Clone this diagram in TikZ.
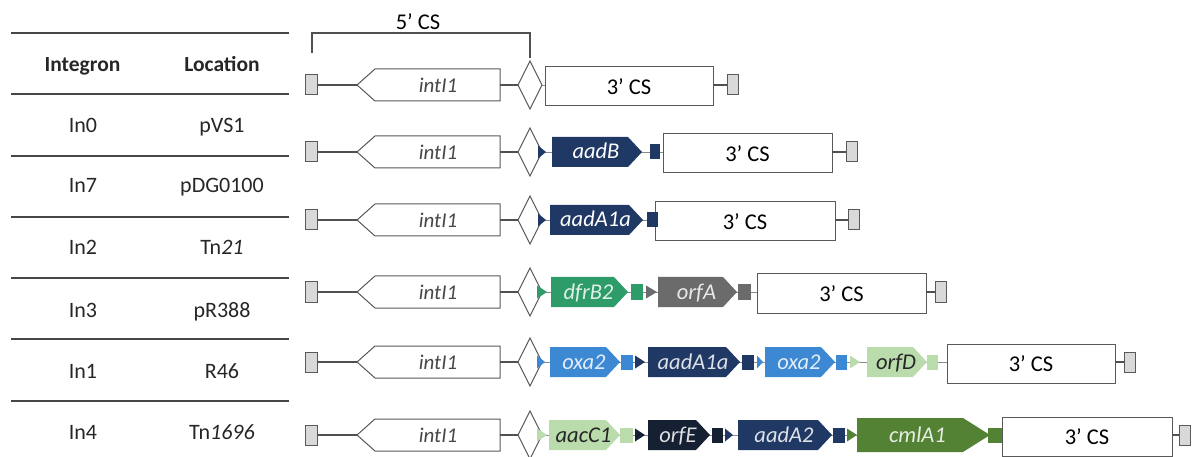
\documentclass[tikz,border=0pt]{standalone}
\usepackage{fontspec}
\setmainfont{Carlito}
\usetikzlibrary{shapes.geometric}

\definecolor{ink}{HTML}{262626}
\definecolor{edge}{HTML}{595959}
\definecolor{capfill}{HTML}{D9D9D9}
\definecolor{navy}{HTML}{1F3864}
\definecolor{darknavy}{HTML}{162033}
\definecolor{midblue}{HTML}{3C88D2}
\definecolor{seagreen}{HTML}{2E9C68}
\definecolor{midgrey}{HTML}{6B6B6B}
\definecolor{palegreen}{HTML}{BADCAC}
\definecolor{olive}{HTML}{548235}

\tikzset{
  rule/.style={draw=ink!85, line width=1.6pt},
  headtext/.style={font=\fontsize{21.5}{24}\selectfont\bfseries, text=ink, anchor=base},
  celltext/.style={font=\fontsize{22}{24}\selectfont, text=ink, anchor=base},
  endcap/.style={draw=edge, fill=capfill, line width=1pt, minimum width=12pt, minimum height=20pt, inner sep=0pt, outer sep=0pt},
  intbody/.style={draw=edge, fill=white, line width=1pt},
  inttext/.style={font=\fontsize{21}{24}\selectfont\itshape, text=ink!85, anchor=base},
  attI/.style={diamond, draw=edge, fill=white, line width=1pt, minimum width=24pt, minimum height=48pt, inner sep=0pt, outer sep=0pt},
  csbox/.style={draw=edge, fill=white, line width=1pt, minimum height=39pt, inner sep=0pt, outer sep=0pt},
  cstext/.style={font=\fontsize{22.5}{24}\selectfont, text=black, anchor=base},
  link/.style={draw=edge!90!black, line width=1.1pt},
  backbone/.style={draw=edge!70, line width=0.5pt},
  genetext/.style={font=\fontsize{22.5}{24}\selectfont\itshape, anchor=base},
}

% right-pointing attC marker
\newcommand\attc[3]{\fill[#3] (#1,\Y-6.5) -- (#2,\Y) -- (#1,\Y+6.5) -- cycle;}
% square closing a cassette
\newcommand\cassq[3]{\fill[#3] (#1,\Y-7.5) rectangle (#2,\Y+7.5);}
% gene arrow: name, x1, x2, fill, text colour, label
\newcommand\gene[6]{%
  \fill[#4] (#2,\Y-15) -- (#3-14,\Y-15) -- (#3,\Y) -- (#3-14,\Y+15) -- (#2,\Y+15) -- cycle;
  \node[genetext, text=#5] (#1) at ({(#2+#3)/2-1},\Y+7) {#6};}
% long gene arrow (cmlA1)
\newcommand\biggene[6]{%
  \fill[#4] (#2,\Y-17) -- (#3-27,\Y-17) -- (#3,\Y) -- (#3-27,\Y+17) -- (#2,\Y+17) -- cycle;
  \node[genetext, text=#5] (#1) at ({(#2+#3)/2-6},\Y+7) {#6};}
% common frame of an integron: id, y, 3'CS left, 3'CS right, right cap centre
\newcommand\integron[5]{%
  \def\Y{#2}
  \node[endcap] (L#1) at (311,#2) {};
  \draw[intbody] (357,#2) -- (375,#2-16) -- (500,#2-16) -- (500,#2+16) -- (375,#2+16) -- cycle;
  \coordinate (T#1) at (357,#2);
  \coordinate (E#1) at (500,#2);
  \node[inttext] (I#1) at (438,#2+7.5) {intI1};
  \node[attI] (D#1) at (530,#2) {};
  \node[csbox, minimum width={#4-#3}] (B#1) at ({(#3+#4)/2},#2+1.5) {};
  \node[cstext] (C#1) at ({(#3+#4)/2},#2+9.5) {3’ CS};
  \node[endcap, minimum width=11pt] (R#1) at (#5,#2) {};
  \draw[link] (L#1.east) -- (T#1);
  \draw[link] (E#1) -- (D#1.west);
  \draw[link] (B#1.east |- R#1.west) -- (R#1.west);
  \draw[backbone] (D#1.east) -- (B#1.west |- D#1.east);
}

\begin{document}
\begin{tikzpicture}[x=1pt, y=-1pt]
\useasboundingbox (0,0) rectangle (1192,457);

% ---- table ----
\foreach \ry in {33,94,156,217,278,339,401}
  \draw[rule] (11,\ry) -- (289,\ry);
\node[headtext] (hInt) at (82.5,72) {Integron};
\node[headtext] (hLoc) at (222,72) {Location};
\node[celltext] (n0) at (83,133) {In0};
\node[celltext] (p0) at (222,133) {pVS1};
\node[celltext] (n7) at (83,193) {In7};
\node[celltext] (p7) at (222,193) {pDG0100};
\node[celltext] (n2) at (83,255) {In2};
\node[celltext] (p2) at (222,255) {Tn\textit{21}};
\node[celltext] (n3) at (83,317) {In3};
\node[celltext] (p3) at (222,317) {pR388};
\node[celltext] (n1) at (83,378) {In1};
\node[celltext] (p1) at (222,378) {R46};
\node[celltext] (n4) at (83,439) {In4};
\node[celltext] (p4) at (222,439) {Tn\textit{1696}};

% ---- In0 ----
\integron{1}{85}{545}{713}{732.5}
\coordinate (csL) at (312,53);
\coordinate (csTop) at (0,33);
\draw[link] (csL) |- (D1.north |- csTop) -- ([yshift=3pt]D1.north);
\node[cstext] (cs5) at (418,30) {5’ CS};

% ---- In7 ----
\integron{2}{152}{663}{832}{851.5}
\attc{538}{546}{navy}
\gene{g21}{552}{642}{navy}{white}{aadB}
\cassq{650}{660}{navy}

% ---- In2 ----
\integron{3}{220}{655}{835}{854}
\attc{538}{546}{navy}
\gene{g31}{550}{643}{navy}{white}{aadA1a}
\cassq{647}{658}{navy}

% ---- In3 ----
\integron{4}{292}{757}{926}{941}
\attc{537}{547}{seagreen}
\gene{g41}{551}{628}{seagreen}{white!85!seagreen}{dfrB2}
\cassq{631}{643}{seagreen}
\attc{646}{657}{midgrey}
\gene{g42}{658}{737}{midgrey}{white!85!midgrey}{orfA}
\cassq{738}{751}{midgrey}

% ---- In1 ----
\integron{5}{362}{947}{1115}{1130}
\attc{537}{545}{midblue}
\gene{g51}{550}{620}{midblue}{white!85!midblue}{oxa2}
\cassq{621}{633}{midblue}
\attc{635}{645}{navy}
\gene{g52}{648}{740}{navy}{white!85!navy}{aadA1a}
\cassq{742}{754}{navy}
\attc{757}{763}{midblue}
\gene{g53}{765}{835}{midblue}{white!85!midblue}{oxa2}
\cassq{836}{847}{midblue}
\attc{850}{860}{palegreen}
\gene{g54}{867}{927}{palegreen}{ink}{orfD}
\cassq{927}{938}{palegreen}

% ---- In4 ----
\integron{6}{435}{1002}{1172}{1184.5}
\attc{537}{547}{palegreen}
\gene{g61}{549}{620}{palegreen}{ink}{aacC1}
\cassq{620}{633}{palegreen}
\attc{635}{645}{darknavy}
\gene{g62}{648}{710}{darknavy}{white!85!darknavy}{orfE}
\cassq{712}{723}{darknavy}
\attc{725}{733}{navy}
\gene{g63}{738}{832}{navy}{white!85!navy}{aadA2}
\cassq{833}{845}{navy}
\attc{847}{857}{olive}
\biggene{g64}{857}{990}{olive}{white!85!olive}{cmlA1}
\cassq{988}{1002}{olive}

\end{tikzpicture}
\end{document}
